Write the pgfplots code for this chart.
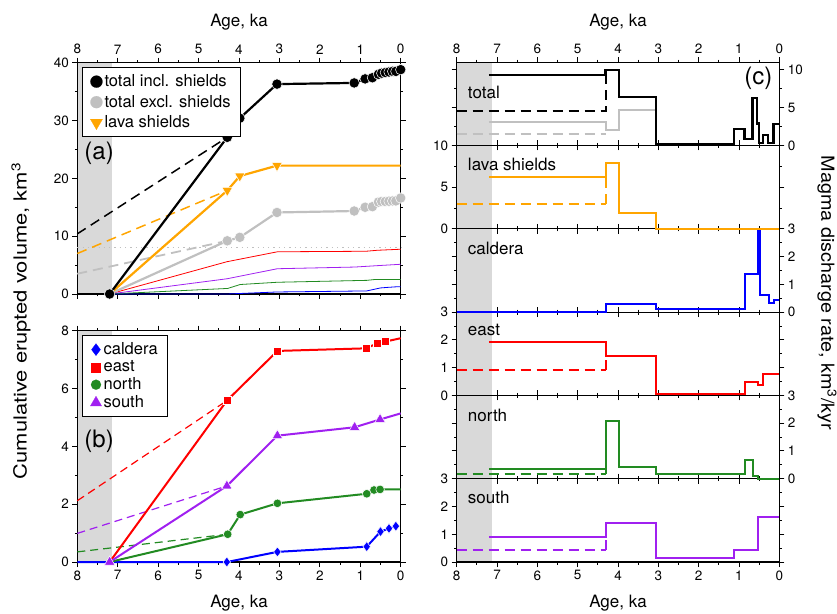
\documentclass[border=0pt]{standalone}
\usepackage{fontspec}
\setmainfont{TeX Gyre Heros}
\usepackage{pgfplots}
\pgfplotsset{compat=1.18}

\definecolor{gmtorange}{RGB}{255,165,0}
\definecolor{gmtgray}{RGB}{192,192,192}
\definecolor{gmtgreen}{RGB}{34,139,34}
\definecolor{gmtpurple}{RGB}{160,32,240}
\definecolor{gmtred}{RGB}{255,0,0}
\definecolor{gmtblue}{RGB}{0,0,255}
\definecolor{shade}{RGB}{217,217,217}

\newcommand{\ft}{\fontsize{13.5}{15}\selectfont}
\newcommand{\fl}{\fontsize{17}{19}\selectfont}
\newcommand{\fy}{\fontsize{18}{20}\selectfont}
\newcommand{\fg}{\fontsize{16.5}{18}\selectfont}
\newcommand{\fa}{\fontsize{24}{26}\selectfont}

\pgfplotsset{
  base/.style={scale only axis, set layers, x dir=reverse, xmin=0, xmax=8, xtick={0,...,8},
    minor x tick num=1, tick align=outside, major tick length=5pt, minor tick length=2.5pt,
    axis line style={line width=1.1pt}, every tick/.append style={line width=0.9pt, black},
    tick label style={font=\ft}, /pgf/number format/assume math mode=true, clip=false},
  lp/.style={base, width=323.4pt, height=231.3pt, anchor=south west},
  rp/.style={base, width=322.6pt, height=83.3pt, anchor=south west},
  tdsh/.style={dash pattern=on 8pt off 5pt},
  shd/.style={fill=shade, draw=none, forget plot},
}

\begin{document}
\begin{tikzpicture}
% ---------------- (a)
\begin{axis}[lp, at={(77.3pt,319pt)}, ymin=0, ymax=40, ytick={0,10,20,30,40}, minor y tick num=1,
  xticklabel pos=upper,
  legend style={at={(0.014,0.98)}, anchor=north west, draw=black, line width=1.1pt, font=\fg,
    row sep=3pt, inner xsep=8pt, inner ysep=5pt}, legend cell align=left]
\addplot[shd] coordinates {(7.986,0.1)(7.13,0.1)(7.13,39.9)(7.986,39.9)};
\addplot[forget plot, color=gmtgray, line width=1.3pt, dash pattern=on 1.3pt off 4pt] coordinates {(8,8)(0,8)};
% dashed extrapolations
\addplot[forget plot, color=gmtgray, line width=1.8pt, dash pattern=on 10pt off 6pt] coordinates {(8,3.5)(4.29,9.2)};
\addplot[forget plot, color=gmtorange, line width=1.5pt, dash pattern=on 10pt off 6pt] coordinates {(8,7.0)(4.29,17.9)};
\addplot[forget plot, color=black, line width=1.5pt, dash pattern=on 10pt off 6pt] coordinates {(8,10.4)(4.29,27.1)};
% thin regional lines
\addplot[forget plot, color=gmtred, line width=0.8pt] coordinates {(7.2,0)(4.30,5.58)(3.05,7.30)(0.86,7.39)(0.58,7.56)(0.39,7.62)(0,7.74)};
\addplot[forget plot, color=gmtpurple, line width=0.8pt] coordinates {(7.2,0)(4.30,2.63)(3.05,4.37)(1.14,4.66)(0.51,4.93)(0,5.14)};
\addplot[forget plot, color=gmtgreen, line width=0.8pt] coordinates {(7.2,0)(4.28,0.96)(3.97,1.64)(3.05,2.03)(0.84,2.36)(0.66,2.49)(0.51,2.51)(0,2.51)};
\addplot[forget plot, color=gmtblue, line width=0.8pt] coordinates {(7.2,0)(4.3,0)(3.05,0.35)(0.84,0.53)(0.50,1.05)(0.29,1.16)(0.12,1.24)(0,1.27)};
% main lines
\addplot[forget plot, color=gmtgray, line width=2.2pt] coordinates {(7.2,0)(4.29,9.2)(3.98,9.8)(3.06,14.1)(1.15,14.35)(0.88,15.0)(0.70,15.1)(0.55,15.9)(0.47,16.0)(0.38,16.0)(0.29,16.05)(0.2,16.1)(0.12,16.1)(0,16.6)};
\addplot[forget plot, color=gmtorange, line width=2.2pt] coordinates {(7.2,0)(4.29,17.9)(3.98,20.4)(3.06,22.2)(0,22.2)};
\addplot[forget plot, color=black, line width=2.2pt] coordinates {(7.2,0)(4.29,27.1)(3.98,30.4)(3.06,36.3)(1.15,36.5)(0.88,37.2)(0.70,37.4)(0.55,38.0)(0.47,38.2)(0.38,38.3)(0.29,38.4)(0.2,38.5)(0.12,38.5)(0,38.8)};
% markers
\addplot[forget plot, only marks, mark=*, mark size=5.2pt, mark options={fill=gmtgray, draw=white, line width=0.5pt}] coordinates {(4.29,9.2)(3.98,9.8)(3.06,14.1)(1.15,14.35)(0.88,15.0)(0.70,15.1)(0.55,15.9)(0.47,16.0)(0.38,16.0)(0.29,16.05)(0.2,16.1)(0.12,16.1)(0,16.6)};
\addplot[forget plot, only marks, mark=triangle*, mark size=6pt, mark options={rotate=180, fill=gmtorange, draw=white, line width=0.5pt}] coordinates {(4.29,17.9)(3.98,20.4)(3.06,22.2)};
\addplot[forget plot, only marks, mark=*, mark size=5.2pt, mark options={fill=black, draw=white, line width=0.5pt}] coordinates {(7.2,0)(4.29,27.1)(3.98,30.4)(3.06,36.3)(1.15,36.5)(0.88,37.2)(0.70,37.4)(0.55,38.0)(0.47,38.2)(0.38,38.3)(0.29,38.4)(0.2,38.5)(0.12,38.5)(0,38.8)};
\addlegendimage{only marks, mark=*, mark size=6pt, mark options={fill=black, draw=black, line width=0.2pt}}
\addlegendentry{total incl. shields}
\addlegendimage{only marks, mark=*, mark size=6pt, mark options={fill=gmtgray, draw=gmtgray, line width=0.2pt}}
\addlegendentry{total excl. shields\hspace{5pt}}
\addlegendimage{only marks, mark=triangle*, mark size=7pt, mark options={rotate=180, fill=gmtorange, draw=gmtorange, line width=0.2pt}}
\addlegendentry{lava shields}
\node[font=\fa] at (axis cs:7.46,24.3) {(a)};
\end{axis}

% ---------------- (b)
\begin{axis}[lp, at={(77.3pt,51pt)}, ymin=0, ymax=8, ytick={0,2,4,6,8}, minor y tick num=1,
  legend style={at={(0.014,0.98)}, anchor=north west, draw=black, line width=1.1pt, font=\fg,
    row sep=0.5pt, inner xsep=8pt, inner ysep=5pt}, legend cell align=left]
\addplot[shd] coordinates {(7.986,0.02)(7.13,0.02)(7.13,7.98)(7.986,7.98)};
\addplot[forget plot, color=gmtred, line width=1.2pt, tdsh] coordinates {(8,2.12)(4.3,5.58)};
\addplot[forget plot, color=gmtpurple, line width=1.2pt, tdsh] coordinates {(8,0.99)(4.3,2.63)};
\addplot[forget plot, color=gmtgreen, line width=1.2pt, tdsh] coordinates {(8,0.35)(4.28,0.96)};
\addplot[forget plot, color=gmtblue, line width=2pt] coordinates {(8,0)(4.3,0)(3.05,0.35)(0.84,0.53)(0.50,1.05)(0.29,1.16)(0.12,1.24)};
\addplot[forget plot, color=gmtgreen, line width=2pt] coordinates {(7.2,0)(4.28,0.96)(3.97,1.64)(3.05,2.03)(0.84,2.36)(0.66,2.49)(0.51,2.51)(0,2.51)};
\addplot[forget plot, color=gmtred, line width=2pt] coordinates {(7.2,0)(4.30,5.58)(3.05,7.30)(0.86,7.39)(0.58,7.56)(0.39,7.62)(0,7.74)};
\addplot[forget plot, color=gmtpurple, line width=2pt] coordinates {(7.2,0)(4.30,2.63)(3.05,4.37)(1.14,4.66)(0.51,4.93)(0,5.14)};
\addplot[forget plot, only marks, mark=diamond*, mark size=5pt, mark options={fill=gmtblue, draw=white, line width=0.5pt}] coordinates {(4.3,0)(3.05,0.35)(0.84,0.53)(0.50,1.05)(0.29,1.16)(0.12,1.24)};
\addplot[forget plot, only marks, mark=*, mark size=4.3pt, mark options={fill=gmtgreen, draw=white, line width=0.5pt}] coordinates {(4.28,0.96)(3.97,1.64)(3.05,2.03)(0.84,2.36)(0.66,2.49)(0.51,2.51)};
\addplot[forget plot, only marks, mark=square*, mark size=4pt, mark options={fill=gmtred, draw=white, line width=0.5pt}] coordinates {(4.30,5.58)(3.05,7.30)(0.86,7.39)(0.58,7.56)(0.39,7.62)};
\addplot[forget plot, only marks, mark=triangle*, mark size=6pt, mark options={fill=gmtpurple, draw=white, line width=0.5pt}] coordinates {(7.2,0)(4.30,2.63)(3.05,4.37)(1.14,4.66)(0.51,4.93)};
\addlegendimage{only marks, mark=diamond*, mark size=6pt, mark options={fill=gmtblue, draw=gmtblue, line width=0.2pt}}
\addlegendentry{caldera}
\addlegendimage{only marks, mark=square*, mark size=4.5pt, mark options={fill=gmtred, draw=gmtred, line width=0.2pt}}
\addlegendentry{east}
\addlegendimage{only marks, mark=*, mark size=5pt, mark options={fill=gmtgreen, draw=gmtgreen, line width=0.2pt}}
\addlegendentry{north}
\addlegendimage{only marks, mark=triangle*, mark size=6.5pt, mark options={fill=gmtpurple, draw=gmtpurple, line width=0.2pt}}
\addlegendentry{south}
\node[font=\fa] at (axis cs:7.46,4.16) {(b)};
\end{axis}

% ---------------- (c) total
\begin{axis}[rp, at={(456.7pt,467.5pt)}, ymin=0, ymax=11, ytick={0,5,10}, minor y tick num=1,
  yticklabel pos=right, xticklabel pos=upper]
\addplot[shd] coordinates {(7.986,0.07)(7.13,0.07)(7.13,10.93)(7.986,10.93)};
\addplot[forget plot, color=gmtgray, line width=1.8pt, dash pattern=on 10pt off 6pt] coordinates {(8,1.54)(4.31,1.54)};
\addplot[forget plot, color=gmtgray, line width=2pt, const plot] coordinates {(7.2,3.16)(4.31,2.1)(3.97,4.65)(3.06,4.65)};
\addplot[forget plot, color=black, line width=2pt, dash pattern=on 10pt off 6pt] coordinates {(8,4.56)(4.31,4.56)(4.31,9.34)};
\addplot[forget plot, color=black, line width=2.4pt, const plot] coordinates {(7.2,9.34)(4.31,10.0)(3.97,6.4)(3.06,0.15)(1.13,2.2)(0.86,0.85)(0.66,6.3)(0.55,2.9)(0.50,0.35)(0.40,1.35)(0.28,0.35)(0.14,2.8)(0,2.8)};
\node[anchor=west, font=\fl] at (rel axis cs:0.024,0.64) {total};
\node[font=\fa] at (axis cs:0.52,8.9) {(c)};
\end{axis}

% lava shields
\begin{axis}[rp, at={(456.7pt,384.2pt)}, ymin=0, ymax=10, ytick={0,5,10}, minor y tick num=1, xticklabels={}]
\addplot[shd] coordinates {(7.986,0.07)(7.13,0.07)(7.13,9.93)(7.986,9.93)};
\addplot[forget plot, color=gmtorange, line width=2pt, dash pattern=on 10pt off 6pt] coordinates {(8,3.0)(4.31,3.0)};
\addplot[forget plot, color=gmtorange, line width=2pt, dash pattern=on 10pt off 6pt] coordinates {(4.31,3.0)(4.31,6.2)};
\addplot[forget plot, color=gmtorange, line width=2pt, const plot] coordinates {(7.2,6.2)(4.31,7.92)(3.97,1.88)(3.06,0)(0,0)};
\node[anchor=west, font=\fl] at (rel axis cs:0.024,0.77) {lava shields};
\end{axis}

% caldera
\begin{axis}[rp, at={(456.7pt,300.9pt)}, ymin=0, ymax=3, ytick={0,1,2,3}, minor y tick num=1,
  yticklabel pos=right, xticklabels={}]
\addplot[shd] coordinates {(7.986,0.02)(7.13,0.02)(7.13,2.98)(7.986,2.98)};
\addplot[forget plot, color=gmtblue, line width=2pt, const plot] coordinates {(8,0)(4.31,0.29)(3.06,0.1)(0.85,1.36)(0.52,2.92)(0.47,0.6)(0.26,0.31)(0.12,0.43)(0,0.43)};
\node[anchor=west, font=\fl] at (rel axis cs:0.024,0.76) {caldera};
\end{axis}

% east
\begin{axis}[rp, at={(456.7pt,217.6pt)}, ymin=0, ymax=3, ytick={0,1,2,3}, minor y tick num=1, xticklabels={}]
\addplot[shd] coordinates {(7.986,0.02)(7.13,0.02)(7.13,2.98)(7.986,2.98)};
\addplot[forget plot, color=gmtred, line width=2pt, dash pattern=on 10pt off 6pt] coordinates {(8,0.93)(4.31,0.93)};
\addplot[forget plot, color=gmtred, line width=2pt, dash pattern=on 10pt off 6pt] coordinates {(4.31,0.93)(4.31,1.41)};
\addplot[forget plot, color=gmtred, line width=2pt, const plot] coordinates {(7.2,1.92)(4.31,1.41)(3.06,0.05)(0.85,0.47)(0.52,0.38)(0.40,0.77)(0,0.77)};
\node[anchor=west, font=\fl] at (rel axis cs:0.024,0.78) {east};
\end{axis}

% north
\begin{axis}[rp, at={(456.7pt,134.3pt)}, ymin=0, ymax=3, ytick={0,1,2,3}, minor y tick num=1,
  yticklabel pos=right, xticklabels={}]
\addplot[shd] coordinates {(7.986,0.02)(7.13,0.02)(7.13,2.98)(7.986,2.98)};
\addplot[forget plot, color=gmtgreen, line width=2pt, dash pattern=on 10pt off 6pt] coordinates {(8,0.17)(4.31,0.17)};
\addplot[forget plot, color=gmtgreen, line width=2pt, dash pattern=on 10pt off 6pt] coordinates {(4.31,0.17)(4.31,0.35)};
\addplot[forget plot, color=gmtgreen, line width=2pt, const plot] coordinates {(7.2,0.35)(4.31,2.09)(3.97,0.43)(3.06,0.17)(0.85,0.68)(0.66,0.11)(0.52,0)(0,0)};
\node[anchor=west, font=\fl] at (rel axis cs:0.024,0.76) {north};
\end{axis}

% south
\begin{axis}[rp, at={(456.7pt,51pt)}, ymin=0, ymax=3, ytick={0,1,2,3}, minor y tick num=1]
\addplot[shd] coordinates {(7.986,0.02)(7.13,0.02)(7.13,2.98)(7.986,2.98)};
\addplot[forget plot, color=gmtpurple, line width=2pt, dash pattern=on 10pt off 6pt] coordinates {(8,0.44)(4.31,0.44)};
\addplot[forget plot, color=gmtpurple, line width=2pt, dash pattern=on 10pt off 6pt] coordinates {(4.31,0.44)(4.31,0.89)};
\addplot[forget plot, color=gmtpurple, line width=2pt, const plot] coordinates {(7.2,0.89)(4.31,1.40)(3.06,0.16)(1.12,0.43)(0.52,1.62)(0,1.62)};
\node[anchor=west, font=\fl] at (rel axis cs:0.024,0.78) {south};
\end{axis}

% global labels
\node[font=\fl] at (239pt,591pt) {Age, ka};
\node[font=\fl] at (618pt,591pt) {Age, ka};
\node[font=\fl] at (239pt,10pt) {Age, ka};
\node[font=\fl] at (618pt,10pt) {Age, ka};
\node[font=\fy, rotate=90] at (21pt,292pt) {\scalebox{1.22}[1]{Cumulative erupted volume, km\textsuperscript{3}}};
\node[font=\fy, rotate=-90] at (827pt,320pt) {\scalebox{1.1}[1]{Magma discharge rate, km\textsuperscript{3}/kyr}};

\pgfresetboundingbox
\useasboundingbox (0pt,0pt) rectangle (837pt,613pt);
\end{tikzpicture}
\end{document}
